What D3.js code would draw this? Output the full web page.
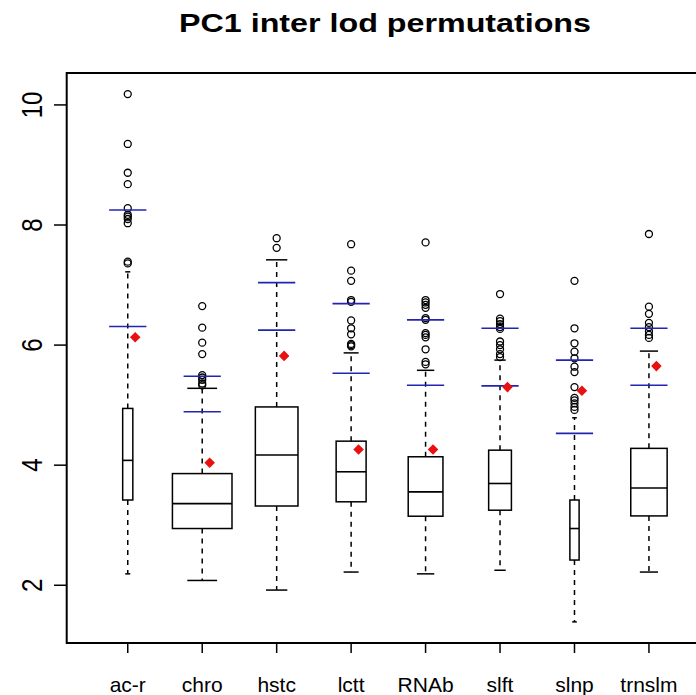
<!DOCTYPE html>
<html>
<head>
<meta charset="utf-8">
<script src="https://cdn.jsdelivr.net/npm/d3@7"></script>
<style>
  body { margin: 0; background: #fff; }
  text { font-family: Arial, "Liberation Sans", sans-serif; fill: #000; }
</style>
</head>
<body>
<svg id="main-svg"></svg>
<script>
// groups and their boxplot stats
var groups = ["ac-r", "chro", "hstc", "lctt", "RNAb", "slft", "slnp", "trnslm"];
var groupSize = [29, 1000, 512, 253, 340, 146, 24, 373]; // varwidth, relative n
var whiskLo = [2.19, 2.08, 1.92, 2.22, 2.19, 2.25, 1.39, 2.22];
var q1 = [3.42, 2.945, 3.32, 3.39, 3.15, 3.25, 2.42, 3.155];
var med = [4.08, 3.36, 4.17, 3.89, 3.555, 3.695, 2.945, 3.62];
var q3 = [4.945, 3.86, 4.97, 4.4, 4.14, 4.25, 3.42, 4.28];
var whiskHi = [7.22, 5.28, 7.42, 5.87, 5.58, 5.75, 4.79, 5.9];
var outliers = [
  [10.18, 9.35, 8.87, 8.68, 8.28, 8.17, 8.14, 8.1, 8.03, 7.39, 7.36],
  [6.65, 6.29, 6.04, 5.85, 5.5, 5.46, 5.42, 5.36, 5.33],
  [7.78, 7.62],
  [7.68, 7.24, 7.07, 6.75, 6.72, 6.41, 6.28, 6.18, 6.02, 6.0, 5.98],
  [7.71, 6.75, 6.71, 6.67, 6.62, 6.45, 6.42, 6.2, 6.17, 6.13, 5.93, 5.72, 5.68],
  [6.85, 6.44, 6.4, 6.35, 6.3, 6.27, 6.06, 6.0, 5.93, 5.85, 5.8],
  [7.07, 6.28, 6.03, 5.89, 5.78, 5.64, 5.55, 5.3, 5.12, 5.08, 5.03, 4.97, 4.92],
  [7.85, 6.64, 6.52, 6.37, 6.3, 6.23, 6.17, 6.12]
];
// blue threshold marks and red observed values
var permHi = [8.25, 5.48, 7.04, 6.69, 6.42, 6.28, 5.75, 6.28];
var permLo = [6.31, 4.89, 6.25, 5.53, 5.33, 5.32, 4.53, 5.33];
var observed = [6.13, 4.04, 5.82, 4.26, 4.26, 5.3, 5.24, 5.65];
var yTicks = [2, 4, 6, 8, 10];

var width = 696,
  height = 695,
  plotLeft = 66.7,
  plotRight = 710,
  plotTop = 73,
  plotBottom = 643;

var svg = d3.select("#main-svg").attr("width", width).attr("height", height);

// R style: 4% extension of the ranges
var allVals = d3.merge([whiskLo, whiskHi, d3.merge(outliers)]);
var yMin = d3.min(allVals), yMax = d3.max(allVals), yPad = (yMax - yMin) * 0.04;
var n = groups.length, xPad = n * 0.04;

var x = d3.scaleLinear().domain([0.5 - xPad, n + 0.5 + xPad]).range([plotLeft, plotRight]);
var y = d3.scaleLinear().domain([yMin - yPad, yMax + yPad]).range([plotBottom, plotTop]);
var maxRoot = d3.max(groupSize, function (d) { return Math.sqrt(d) });
function halfW(i) {
  return (x(0.8 * Math.sqrt(groupSize[i]) / maxRoot) - x(0)) / 2
}

var g = svg.selectAll("g.box").data(groups).enter().append("g").attr("class", "box");

function vline(sel, a, b, dash) {
  sel.append("line")
    .attr("x1", function (d, i) { return x(i + 1) }).attr("x2", function (d, i) { return x(i + 1) })
    .attr("y1", function (d, i) { return y(a[i]) }).attr("y2", function (d, i) { return y(b[i]) })
    .attr("stroke", "#000").attr("stroke-width", 1.5).attr("stroke-dasharray", dash);
}
function hline(sel, v, hw, col, sw) {
  sel.append("line")
    .attr("x1", function (d, i) { return x(i + 1) - hw(i) }).attr("x2", function (d, i) { return x(i + 1) + hw(i) })
    .attr("y1", function (d, i) { return y(v[i]) }).attr("y2", function (d, i) { return y(v[i]) })
    .attr("stroke", col).attr("stroke-width", sw);
}

// whiskers and staples
vline(g, q3, whiskHi, "5,5");
vline(g, q1, whiskLo, "5,5");
hline(g, whiskHi, function (i) { return halfW(i) / 2 }, "#000", 1.5);
hline(g, whiskLo, function (i) { return halfW(i) / 2 }, "#000", 1.5);

// boxes
g.append("rect")
  .attr("x", function (d, i) { return x(i + 1) - halfW(i) })
  .attr("width", function (d, i) { return 2 * halfW(i) })
  .attr("y", function (d, i) { return y(q3[i]) })
  .attr("height", function (d, i) { return y(q1[i]) - y(q3[i]) })
  .attr("fill", "none").attr("stroke", "#000").attr("stroke-width", 1.5);
hline(g, med, halfW, "#000", 1.6);

// outliers
g.selectAll("circle").data(function (d, i) {
  return outliers[i].map(function (v) { return [i + 1, v] })
}).enter().append("circle")
  .attr("cx", function (p) { return x(p[0]) }).attr("cy", function (p) { return y(p[1]) })
  .attr("r", 3.5).attr("fill", "none").attr("stroke", "#000").attr("stroke-width", 1.3);

// permutation thresholds
var blueHalf = function () { return x(0.25) - x(0) };
hline(g, permHi, blueHalf, "#2424b4", 1.6);
hline(g, permLo, blueHalf, "#2424b4", 1.6);

// observed
g.append("path")
  .attr("d", d3.symbol().type(d3.symbolSquare).size(56))
  .attr("transform", function (d, i) {
    return "translate(" + x(i + 1.1) + "," + y(observed[i]) + ") rotate(45)"
  })
  .attr("fill", "#e81010");

// frame
svg.append("rect").attr("x", plotLeft).attr("y", plotTop).attr("width", plotRight - plotLeft).attr("height", plotBottom - plotTop)
  .attr("fill", "none").attr("stroke", "#000").attr("stroke-width", 2);

// y axis
var ya = svg.append("g");
ya.selectAll("line").data(yTicks).enter().append("line")
  .attr("x1", plotLeft - 12.7).attr("x2", plotLeft)
  .attr("y1", function (d) { return y(d) }).attr("y2", function (d) { return y(d) })
  .attr("stroke", "#000").attr("stroke-width", 1.5);
ya.selectAll("text").data(yTicks).enter().append("text")
  .attr("transform", function (d) { return "translate(41.5," + y(d) + ") scale(1.2,1) rotate(-90)" })
  .attr("text-anchor", "middle").style("font-size", "24px").text(function (d) { return d });

// x axis
var xa = svg.append("g");
xa.selectAll("line").data(groups).enter().append("line")
  .attr("x1", function (d, i) { return x(i + 1) }).attr("x2", function (d, i) { return x(i + 1) })
  .attr("y1", plotBottom).attr("y2", plotBottom + 10)
  .attr("stroke", "#000").attr("stroke-width", 1.5);
xa.selectAll("text").data(groups).enter().append("text")
  .attr("x", function (d, i) { return x(i + 1) }).attr("y", 692)
  .attr("text-anchor", "middle").style("font-size", "21px").text(function (d) { return d });

// title
svg.append("text").attr("x", 385).attr("y", 32.3).attr("text-anchor", "middle")
  .style("font-size", "25px").style("font-weight", "bold")
  .attr("textLength", 412).attr("lengthAdjust", "spacingAndGlyphs")
  .text("PC1 inter lod permutations");
</script>
</body>
</html>
